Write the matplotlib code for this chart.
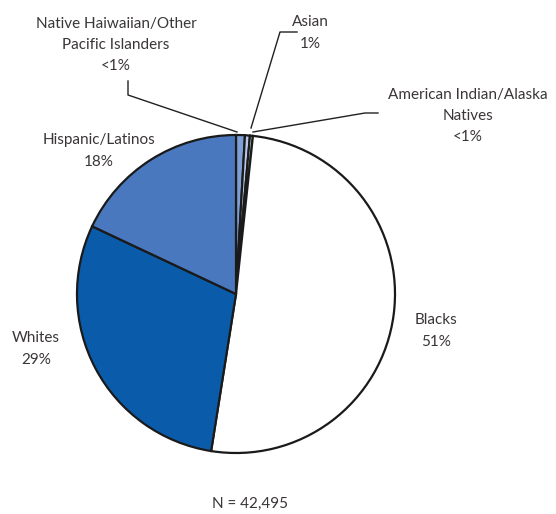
import matplotlib
matplotlib.use("Agg")
import matplotlib.pyplot as plt

# Доли по группам (порядок по часовой стрелке от 12 часов)
groups = ["Asian", "Native Hawaiian/Other Pacific Islanders",
          "American Indian/Alaska Natives", "Blacks", "Whites", "Hispanic/Latinos"]
shares = [0.9, 0.5, 0.3, 50.8, 29.5, 18.0]
colors = ["#7e9fd6", "#b7c9ea", "#dfe7f6", "#ffffff", "#0a5cab", "#4a78bf"]

labels = ["Asian\n1%",
          "Native Haiwaiian/Other\nPacific Islanders\n<1%",
          "American Indian/Alaska\nNatives\n<1%",
          "Blacks\n51%", "Whites\n29%", "Hispanic/Latinos\n18%"]
note = "N = 42,495"

W, H = 556, 514
fig = plt.figure(figsize=(W / 100, H / 100), dpi=100, facecolor="white")
ax = fig.add_axes([0, 0, 1, 1])


def py(y):
    # пиксели сверху -> координаты осей
    return H - y


cx, cy, r = 236, py(294), 159
ax.pie(shares, colors=colors, startangle=90, counterclock=False,
       center=(cx, cy), radius=r, frame=True,
       wedgeprops=dict(edgecolor="#1a1a1a", linewidth=1.6))
ax.set_xlim(0, W)
ax.set_ylim(0, H)
ax.set_aspect("equal")
ax.axis("off")

font = dict(family="Lato", fontsize=11, color="#3a3638", ha="center", va="center",
            linespacing=1.65)

ax.text(310, py(33), labels[0], **font)
ax.text(116, py(45), labels[1], **font)
ax.text(468, py(116), labels[2], **font)
ax.text(436, py(331), labels[3], **font)
ax.text(36, py(349), labels[4], **font)
ax.text(99, py(151), labels[5], **font)
ax.text(250, py(504), note, **font)

# выноски
line = dict(color="#231f20", linewidth=1.0)
ax.plot([128, 128, 237], [py(81), py(95), py(132)], **line)
ax.plot([297, 280, 251], [py(32), py(32), py(128)], **line)
ax.plot([378, 365, 253], [py(113), py(113), py(132)], **line)

fig.savefig("out.png", dpi=100, facecolor="white")
